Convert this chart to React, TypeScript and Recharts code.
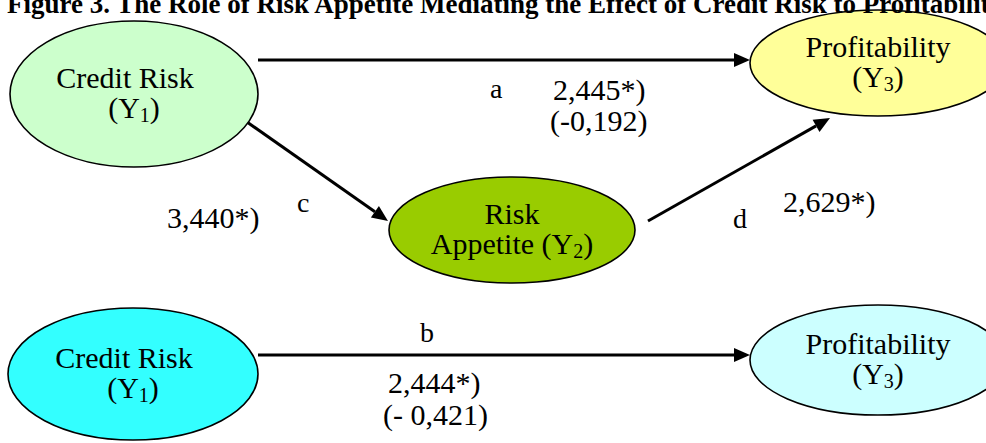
import { ScatterChart, Scatter, XAxis, YAxis, ReferenceLine } from 'recharts';

// model content
const nodeTitles = ['Credit Risk', 'Profitability', 'Risk', 'Credit Risk', 'Profitability'];
const nodeSubtitles = ['(Y', '(Y', 'Appetite (Y', '(Y', '(Y'];
const nodeIndex = ['1', '3', '2', '1', '3'];
const pathNames = ['a', 'c', 'd', 'b'];
const pathCoef = ['2,445*)', '3,440*)', '2,629*)', '2,444*)'];
const pathCoefSecond = ['(-0,192)', '', '', '(- 0,421)'];
const title = 'Figure 3. The Role of Risk Appetite Mediating the Effect of Credit Risk to Profitability';

// diagram layout (plot units, 1:1 with pixels)
const nodeX = [134, 878, 512, 133, 878];
const nodeY = [94, 63, 230, 374, 360];
const nodeRx = [124, 128, 123, 125, 128];
const nodeRy = [73, 53, 53, 66, 55];
const nodeFill = ['#ccffcc', '#ffff99', '#99cc00', '#33ffff', '#ccffff'];
const nodeShift = [-9, 0, 0, -9, 0];

const arrows = [
  [{ x: 258, y: 60 }, { x: 750, y: 60 }],
  [{ x: 247, y: 122 }, { x: 388, y: 221 }],
  [{ x: 648, y: 221 }, { x: 830, y: 118 }],
  [{ x: 258, y: 355 }, { x: 750, y: 355 }],
];
const nameX = [490, 297, 733, 420];
const nameY = [98, 212, 228, 342];
const coefX = [553, 167, 783, 388];
const coefY = [100, 228, 212, 393];
const coef2X = [550, 0, 0, 383];
const coef2Y = [131, 0, 0, 425];

const FONT = '"Liberation Serif", "Times New Roman", serif';

const nodes = nodeTitles.map((t, i) => ({
  x: nodeX[i], y: nodeY[i], rx: nodeRx[i], ry: nodeRy[i], fill: nodeFill[i],
  t, sub: nodeSubtitles[i], idx: nodeIndex[i], shift: nodeShift[i],
}));

const labels = [
  { x: 7, y: 13, text: title, size: 27, bold: true },
  ...pathNames.map((n, i) => ({ x: nameX[i], y: nameY[i], text: n, size: 28 })),
  ...pathCoef.map((c, i) => ({ x: coefX[i], y: coefY[i], text: c, size: 30 })),
  ...pathCoefSecond.filter((c) => c).map((c) => {
    const i = pathCoefSecond.indexOf(c);
    return { x: coef2X[i], y: coef2Y[i], text: c, size: 30 };
  }),
];

const NodeShape = (p: any) => {
  const d = p.payload;
  const { cx, cy } = p;
  return (
    <g>
      <ellipse cx={cx} cy={cy} rx={d.rx} ry={d.ry} fill={d.fill} stroke="#000" strokeWidth={1.6} />
      <text x={cx + d.shift} y={cy - 6} textAnchor="middle" fontFamily={FONT} fontSize={30} fill="#000">{d.t}</text>
      <text x={cx} y={cy + 24} textAnchor="middle" fontFamily={FONT} fontSize={30} fill="#000">
        <tspan>{d.sub}</tspan>
        <tspan fontSize={20} dy={4}>{d.idx}</tspan>
        <tspan dy={-4}>)</tspan>
      </text>
    </g>
  );
};

const LabelShape = (p: any) => {
  const d = p.payload;
  return (
    <text x={p.cx} y={p.cy} fontFamily={FONT} fontSize={d.size} fontWeight={d.bold ? 'bold' : 'normal'} fill="#000">
      {d.text}
    </text>
  );
};

const ArrowShape = (p: any) => {
  const { x1, y1, x2, y2 } = p;
  const ang = Math.atan2(y2 - y1, x2 - x1);
  const len = 16, half = 7;
  const bx = x2 - len * Math.cos(ang), by = y2 - len * Math.sin(ang);
  const nx = -Math.sin(ang) * half, ny = Math.cos(ang) * half;
  return (
    <g>
      <line x1={x1} y1={y1} x2={bx} y2={by} stroke="#000" strokeWidth={3} />
      <polygon points={`${x2},${y2} ${bx + nx},${by + ny} ${bx - nx},${by - ny}`} fill="#000" />
    </g>
  );
};

export default function App() {
  return (
    <div style={{ position: 'absolute', left: 0, top: 0, background: '#fff' }}>
      <ScatterChart width={986} height={443} margin={{ top: 0, right: 0, bottom: 0, left: 0 }}>
        <XAxis type="number" dataKey="x" domain={[0, 986]} hide allowDataOverflow />
        <YAxis type="number" dataKey="y" domain={[0, 443]} reversed hide allowDataOverflow />
        {arrows.map((seg, i) => (
          <ReferenceLine key={i} segment={seg} shape={ArrowShape} ifOverflow="visible" />
        ))}
        <Scatter data={nodes} shape={NodeShape} isAnimationActive={false} />
        <Scatter data={labels} shape={LabelShape} isAnimationActive={false} />
      </ScatterChart>
    </div>
  );
}
